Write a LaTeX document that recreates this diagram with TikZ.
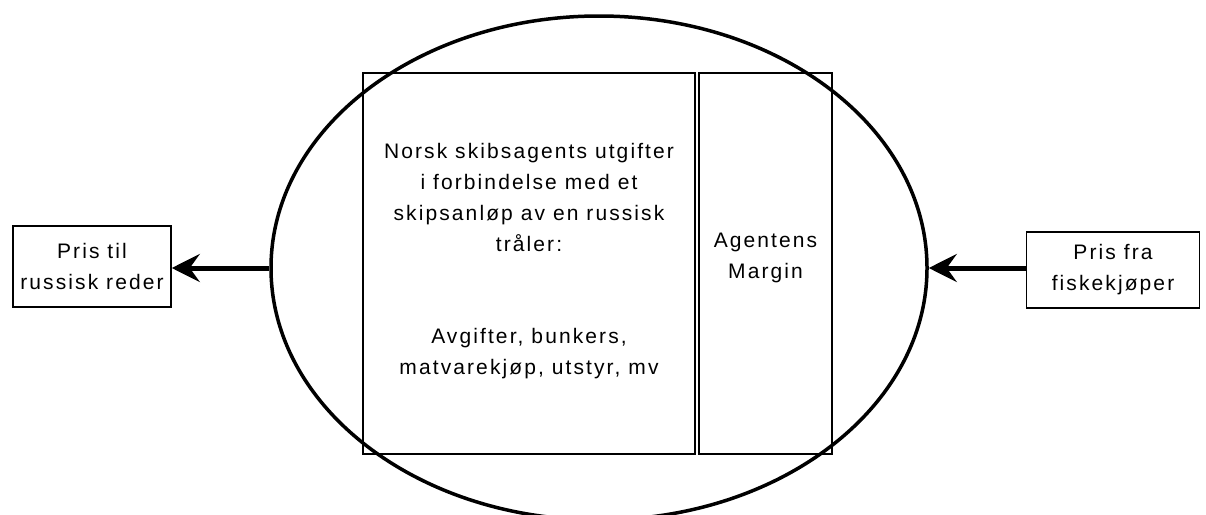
\documentclass[tikz,border=0pt]{standalone}
\usepackage{fontspec}
\setmainfont{Liberation Sans}[LetterSpace=10]
\usetikzlibrary{shapes.geometric,arrows.meta}

\begin{document}
\begin{tikzpicture}[x=1pt,y=-1pt,
		every node/.style={font=\fontsize{21}{31}\selectfont, align=center, inner sep=0pt},
		box/.style={draw, line width=1.5pt},
		flow/.style={-{Stealth[length=28pt,width=28pt,inset=10pt]}, line width=5pt}]
	\useasboundingbox (0,0) rectangle (1206,514);
	
	% Columns inside the port call
	\node[box, line width=2pt, minimum width=332pt, minimum height=381pt] (cost) at (529,263.5) {};
	\node[box, line width=2pt, minimum width=133pt, minimum height=381pt] (margin) at (765.5,263.5) {};
	\node (desc) at (529,197) {Norsk skibsagents utgifter\\i forbindelse med et\\skipsanløp av en russisk\\tråler:};
	\node (items) at (529,354) {Avgifter, bunkers,\\matvarekjøp, utstyr, mv};
	\node at (margin.center) [yshift=6pt] {Agentens\\Margin};
	
	% Port call
	\node[ellipse, draw, line width=3.5pt, minimum width=656pt, minimum height=504pt] (ell) at (599,268) {};
	
	% Prices
	\node[box, minimum width=158pt, minimum height=81pt] (owner) at (92,266.5) {Pris til\\russisk reder};
	\node[box, minimum width=173pt, minimum height=76pt] (buyer) at (1113,270) {Pris fra\\fiskekjøper};
	
	\draw[flow] (ell.west) -- (ell.west -| owner.east);
	\draw[flow] (ell.east -| buyer.west) -- (ell.east);
\end{tikzpicture}
\end{document}
